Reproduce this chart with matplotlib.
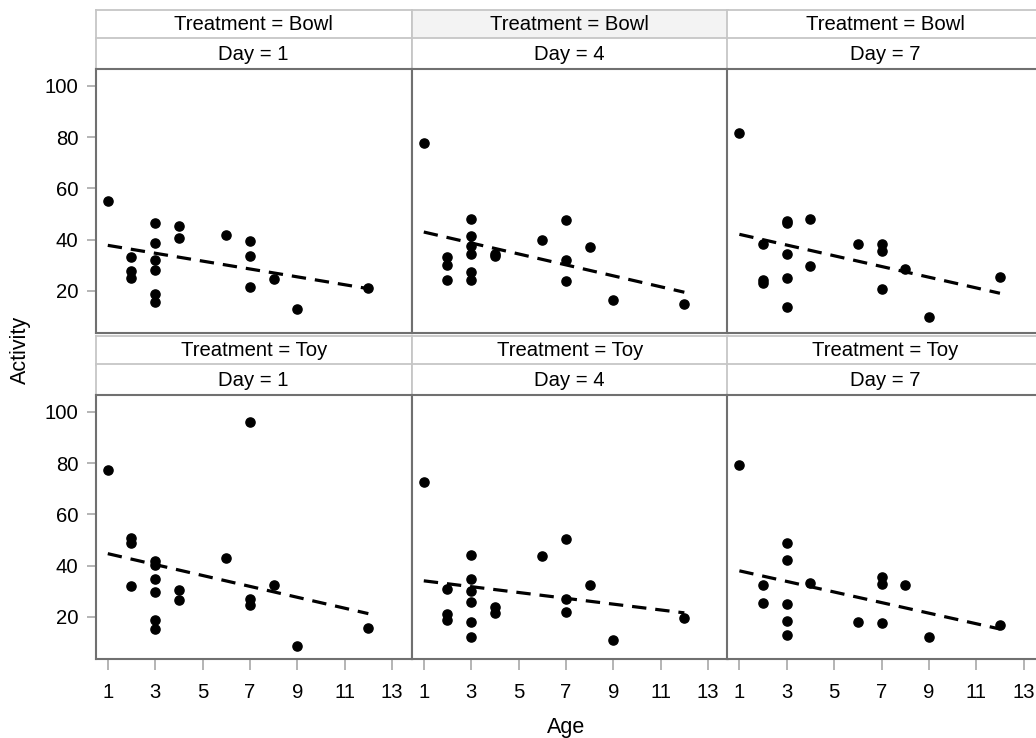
import numpy as np
import matplotlib.pyplot as plt

plt.rcParams['font.family'] = ['Liberation Sans', 'DejaVu Sans']

treatments = ["Bowl", "Toy"]
days = [1, 4, 7]

# Activity by Age for each Treatment x Day panel
bowl_day1_age = [1, 2, 2, 2, 3, 3, 3, 3, 3, 3, 4, 4, 6, 7, 7, 7, 8, 9, 12]
bowl_day1_act = [55.1, 33.4, 27.9, 24.9, 46.5, 38.6, 32.2, 28.1, 18.9, 15.6,
                 45.4, 40.7, 42.0, 39.5, 33.5, 21.4, 24.7, 12.9, 21.0]

bowl_day4_age = [1, 2, 2, 2, 3, 3, 3, 3, 3, 3, 4, 4, 6, 7, 7, 7, 8, 9, 12]
bowl_day4_act = [77.9, 33.1, 30.1, 24.3, 48.2, 41.5, 37.7, 34.4, 27.3, 24.3,
                 34.5, 33.5, 39.8, 47.8, 32.2, 24.0, 37.3, 16.6, 14.8]

bowl_day7_age = [1, 2, 2, 2, 3, 3, 3, 3, 3, 4, 4, 6, 7, 7, 7, 8, 9, 12]
bowl_day7_act = [81.7, 38.2, 24.3, 23.0, 47.2, 46.4, 34.3, 24.9, 13.6,
                 48.0, 29.8, 38.2, 38.5, 35.7, 20.8, 28.6, 9.7, 25.6]

toy_day1_age = [1, 2, 2, 2, 3, 3, 3, 3, 3, 3, 4, 4, 6, 7, 7, 7, 8, 9, 12]
toy_day1_act = [77.2, 50.7, 48.9, 32.0, 41.9, 40.2, 35.0, 29.6, 18.7, 15.2,
                30.7, 26.5, 43.0, 95.9, 26.9, 24.6, 32.6, 8.6, 15.5]

toy_day4_age = [1, 2, 2, 2, 3, 3, 3, 3, 3, 3, 4, 4, 6, 7, 7, 7, 8, 9, 12]
toy_day4_act = [72.8, 30.8, 21.3, 18.7, 44.1, 34.7, 30.1, 25.9, 18.0, 12.2,
                23.7, 21.7, 43.7, 50.3, 27.0, 22.0, 32.4, 11.2, 19.6]

toy_day7_age = [1, 2, 2, 3, 3, 3, 3, 3, 4, 6, 7, 7, 7, 8, 9, 12]
toy_day7_act = [79.1, 32.6, 25.5, 48.8, 42.4, 25.1, 18.4, 13.0, 33.3,
                18.2, 35.5, 32.8, 17.7, 32.6, 12.1, 16.8]

# dashed regression line per panel: fitted Activity at Age 1 and Age 12
fit_age = [1, 12]
fit_bowl = [[37.8, 20.9], [43.0, 19.5], [42.1, 19.1]]
fit_toy = [[44.7, 21.3], [34.1, 21.6], [38.0, 15.3]]

panels = {
    ("Bowl", 1): (bowl_day1_age, bowl_day1_act, fit_bowl[0]),
    ("Bowl", 4): (bowl_day4_age, bowl_day4_act, fit_bowl[1]),
    ("Bowl", 7): (bowl_day7_age, bowl_day7_act, fit_bowl[2]),
    ("Toy", 1): (toy_day1_age, toy_day1_act, fit_toy[0]),
    ("Toy", 4): (toy_day4_age, toy_day4_act, fit_toy[1]),
    ("Toy", 7): (toy_day7_age, toy_day7_act, fit_toy[2]),
}

x_ticks = [1, 3, 5, 7, 9, 11, 13]
y_ticks = [20, 40, 60, 80, 100]

W, H = 1036, 738
fig = plt.figure(figsize=(W / 100, H / 100), dpi=100)


def px_box(left, top, width, height):
    # pixel box (from top-left) -> figure fraction
    return [left / W, 1 - (top + height) / H, width / W, height / H]


col_left = [95.7, 411.7, 727.3]
row_top = [69, 395]
panel_w, panel_h = 316, 264
border = '#707070'
strip_edge = '#c6c6c6'
FS = 14.6


def add_strip(left, top, height, label, face):
    ax_s = fig.add_axes(px_box(left, top, panel_w, height))
    ax_s.set_facecolor(face)
    ax_s.set_xticks([])
    ax_s.set_yticks([])
    for sp in ax_s.spines.values():
        sp.set_color(strip_edge)
        sp.set_linewidth(1.3)
    ax_s.text(0.5, 0.48, label, ha='center', va='center', fontsize=FS,
              transform=ax_s.transAxes)


for r, treat in enumerate(treatments):
    for c, day in enumerate(days):
        left = col_left[c]
        top = row_top[r]
        face = '#f3f3f3' if (r == 0 and c == 1) else 'white'
        add_strip(left, top - 59, 28.5, f"Treatment = {treat}", face)
        add_strip(left, top - 31, 31, f"Day = {day}", 'white')

        ax = fig.add_axes(px_box(left, top, panel_w, panel_h))
        age, act, fit = panels[(treat, day)]

        ax.plot(fit_age, fit, color='black', lw=2.3,
                dashes=(4.5, 2.8), zorder=2)
        ax.plot(age, act, 'o', color='black', ms=6.6, zorder=3)

        ax.set_xlim(0.49, 13.83)
        ax.set_ylim(3.6, 106.6)
        for sp in ax.spines.values():
            sp.set_color(border)
            sp.set_linewidth(1.5)

        ax.set_xticks(x_ticks)
        ax.set_yticks(y_ticks)
        ax.tick_params(axis='x', direction='out', length=8, width=1.2,
                       color='#a8a8a8', labelsize=FS, pad=9,
                       bottom=(r == 1), labelbottom=(r == 1))
        ax.tick_params(axis='y', direction='out', length=6.5, width=1.2,
                       color='#a8a8a8', labelsize=FS, pad=6,
                       left=(c == 0), labelleft=(c == 0))

fig.text(20 / W, 1 - 350 / H, "Activity", rotation=90, ha='center',
         va='center', fontsize=15.5)
fig.text(566 / W, 1 - 727 / H, "Age", ha='center', va='center', fontsize=15.5)

fig.savefig('out.png', dpi=100)
